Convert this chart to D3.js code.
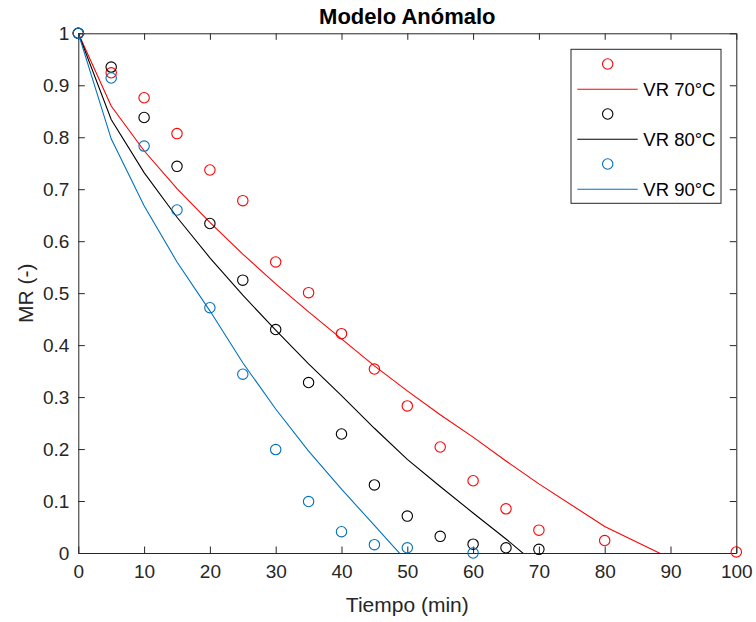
<!DOCTYPE html>
<html>
<head>
    <meta charset="utf-8">
    <style>
        body {
            margin: 0;
            background: white;
            font-family: "Liberation Sans", Arial, Helvetica, sans-serif;
        }
        svg text {
            fill: #262626;
        }
    </style>
    <script src="https://d3js.org/d3.v7.min.js"></script>
</head>
<body>
    <svg id="chart"></svg>
</body>
<script>

// datos experimentales y ajuste del modelo anomalo
const tiempo70 = [0, 5, 10, 15, 20, 25, 30, 35, 40, 45, 50, 55, 60, 65, 70, 80, 100];
const mr70     = [1, 0.924, 0.876, 0.807, 0.737, 0.678, 0.560, 0.501, 0.422, 0.354, 0.283, 0.204, 0.139, 0.085, 0.044, 0.024, 0.002];
const ajuste70 = [1, 0.860, 0.774, 0.701, 0.636, 0.575, 0.518, 0.464, 0.412, 0.360, 0.312, 0.266, 0.223, 0.177, 0.133, 0.051, -0.072];

const tiempo80 = [0, 5, 10, 15, 20, 25, 30, 35, 40, 45, 50, 55, 60, 65, 70];
const mr80     = [1, 0.935, 0.838, 0.744, 0.634, 0.525, 0.430, 0.328, 0.229, 0.131, 0.071, 0.032, 0.017, 0.010, 0.007];
const ajuste80 = [1, 0.834, 0.732, 0.646, 0.568, 0.496, 0.429, 0.364, 0.303, 0.240, 0.180, 0.128, 0.077, 0.027, -0.026];

const tiempo90 = [0, 5, 10, 15, 20, 25, 30, 35, 40, 45, 50, 60];
const mr90     = [1, 0.914, 0.783, 0.660, 0.472, 0.344, 0.199, 0.099, 0.041, 0.016, 0.010, 0.000];
const ajuste90 = [1, 0.797, 0.668, 0.560, 0.466, 0.366, 0.277, 0.196, 0.123, 0.053, -0.017, -0.155];

const xTicks = [0, 10, 20, 30, 40, 50, 60, 70, 80, 90, 100];
const yTicks = [0, 0.1, 0.2, 0.3, 0.4, 0.5, 0.6, 0.7, 0.8, 0.9, 1];
const etiquetas = ["VR 70°C", "VR 80°C", "VR 90°C"];
const colores = ["#ff0000", "#000000", "#0072bd"];

function getConfig() {
    let width = 756;
    let height = 622;
    let margin = { top: 33.3, bottom: 69, left: 78.3, right: 19.7 };
    let bodyWidth = width - margin.left - margin.right;
    let bodyHeight = height - margin.top - margin.bottom;
    let container = d3.select("#chart")
        .attr("width", width)
        .attr("height", height);
    return { width, height, margin, bodyWidth, bodyHeight, container };
}

function getScales(config) {
    let xScale = d3.scaleLinear().domain([0, 100]).range([0, config.bodyWidth]);
    let yScale = d3.scaleLinear().domain([0, 1]).range([config.bodyHeight, 0]);
    return { xScale, yScale };
}

function drawSeries(body, scales, tiempo, mr, ajuste, color) {
    let { xScale, yScale } = scales;
    let puntos = tiempo.map((t, i) => ({ t: t, mr: mr[i], fit: ajuste[i] }));

    body.append("g")
        .selectAll("circle")
        .data(puntos)
        .enter().append("circle")
        .attr("cx", d => xScale(d.t))
        .attr("cy", d => yScale(d.mr))
        .attr("r", 5.2)
        .attr("fill", "none")
        .attr("stroke", color)
        .attr("stroke-width", 1.1);

    let line = d3.line()
        .x(d => xScale(d.t))
        .y(d => yScale(d.fit));

    body.append("path")
        .datum(puntos)
        .attr("clip-path", "url(#clipAxes)")
        .attr("d", line)
        .attr("fill", "none")
        .attr("stroke", color)
        .attr("stroke-width", 1.1);
}

function drawAxes(config, scales) {
    let { container, margin, bodyWidth, bodyHeight } = config;
    let { xScale, yScale } = scales;
    let axisColor = "#262626";
    let g = container.append("g")
        .attr("transform", `translate(${margin.left},${margin.top})`);

    // ejes con ticks hacia dentro, estilo MATLAB
    let bottom = g.append("g")
        .attr("transform", `translate(0,${bodyHeight})`)
        .call(d3.axisBottom(xScale).tickValues(xTicks).tickSizeInner(-6.5).tickSizeOuter(0).tickPadding(12));
    let top = g.append("g")
        .call(d3.axisTop(xScale).tickValues(xTicks).tickSizeInner(-6.5).tickSizeOuter(0).tickFormat(""));
    let left = g.append("g")
        .call(d3.axisLeft(yScale).tickValues(yTicks).tickSizeInner(-6.5).tickSizeOuter(0).tickPadding(9)
            .tickFormat(d => d3.format("")(+d.toFixed(1))));
    let right = g.append("g")
        .attr("transform", `translate(${bodyWidth},0)`)
        .call(d3.axisRight(yScale).tickValues(yTicks).tickSizeInner(-6.5).tickSizeOuter(0).tickFormat(""));

    [bottom, top, left, right].forEach(a => {
        a.select(".domain").attr("stroke", axisColor).attr("stroke-width", 1);
        a.selectAll(".tick line").attr("stroke", axisColor);
        a.selectAll("text")
            .attr("font-size", 19)
            .attr("font-family", "'Liberation Sans', Arial, sans-serif")
            .attr("fill", axisColor);
    });
    bottom.selectAll("text").attr("dy", "0.71em");
}

function drawLabels(config) {
    let { container, margin, bodyWidth, bodyHeight } = config;
    let cx = margin.left + bodyWidth / 2;

    container.append("text")
        .attr("x", cx)
        .attr("y", 24)
        .attr("text-anchor", "middle")
        .attr("font-size", 22)
        .attr("font-weight", "bold")
        .attr("fill", "#000")
        .style("fill", "#000")
        .text("Modelo Anómalo");

    container.append("text")
        .attr("x", cx)
        .attr("y", 612)
        .attr("text-anchor", "middle")
        .attr("font-size", 21)
        .text("Tiempo (min)");

    container.append("text")
        .attr("transform", `translate(33,${margin.top + bodyHeight / 2}) rotate(-90)`)
        .attr("text-anchor", "middle")
        .attr("font-size", 21)
        .text("MR (-)");
}

function drawLegend(config) {
    let container = config.container;
    let box = { x: 571, y: 49.3, w: 150, h: 154 };
    let legend = container.append("g");

    legend.append("rect")
        .attr("x", box.x)
        .attr("y", box.y)
        .attr("width", box.w)
        .attr("height", box.h)
        .attr("fill", "white")
        .attr("stroke", "#262626")
        .attr("stroke-width", 1);

    let rowY = d3.scaleLinear().domain([0, 1]).range([64, 89.3]);
    etiquetas.forEach((label, i) => {
        let yMarker = rowY(0) + i * 50;
        let yLine = rowY(1) + i * 50;
        legend.append("circle")
            .attr("cx", 607.7)
            .attr("cy", yMarker)
            .attr("r", 5.2)
            .attr("fill", "none")
            .attr("stroke", colores[i])
            .attr("stroke-width", 1.1);
        legend.append("line")
            .attr("x1", 577.3)
            .attr("x2", 637.7)
            .attr("y1", yLine)
            .attr("y2", yLine)
            .attr("stroke", colores[i])
            .attr("stroke-width", 1.1);
        legend.append("text")
            .attr("x", 643.3)
            .attr("y", yLine)
            .attr("dy", "0.35em")
            .attr("font-size", 18.5)
            .attr("fill", "#000")
            .style("fill", "#000")
            .text(label);
    });
}

function showChart() {
    let config = getConfig();
    let scales = getScales(config);
    let { container, margin, bodyWidth, bodyHeight } = config;

    container.append("defs").append("clipPath")
        .attr("id", "clipAxes")
        .append("rect")
        .attr("width", bodyWidth)
        .attr("height", bodyHeight);

    drawAxes(config, scales);

    let body = container.append("g")
        .attr("transform", `translate(${margin.left},${margin.top})`);

    drawSeries(body, scales, tiempo70, mr70, ajuste70, colores[0]);
    drawSeries(body, scales, tiempo80, mr80, ajuste80, colores[1]);
    drawSeries(body, scales, tiempo90, mr90, ajuste90, colores[2]);

    drawLabels(config);
    drawLegend(config);
}

showChart();

</script>
</html>
